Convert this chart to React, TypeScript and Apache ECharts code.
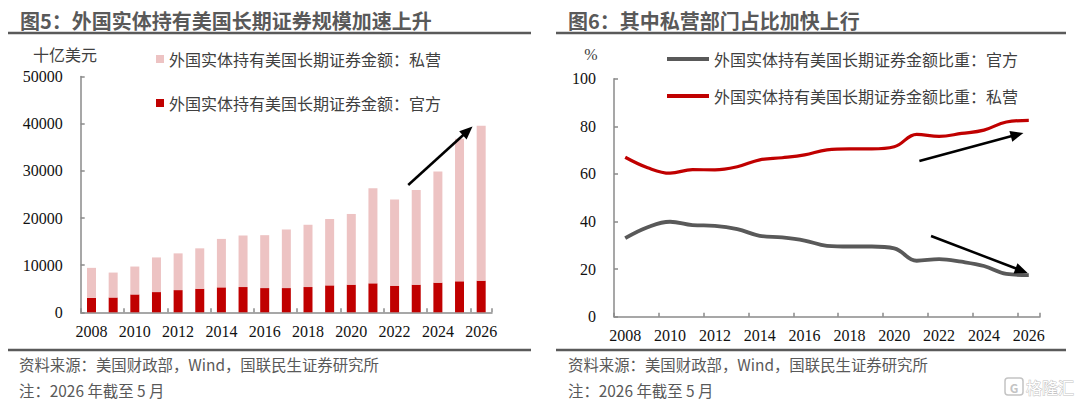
import React, { useEffect, useRef } from "react";
import * as echarts from "echarts";

const years = ["2008","2009","2010","2011","2012","2013","2014","2015","2016","2017","2018","2019","2020","2021","2022","2023","2024","2025","2026"];
// 十亿美元
const officialAmt = [3070, 3140, 3790, 4290, 4710, 5000, 5290, 5360, 5140, 5140, 5360, 5710, 5860, 6140, 5640, 5860, 6290, 6570, 6710];
const privateAmt = [6360, 5290, 5920, 7350, 7790, 8570, 10280, 10930, 11220, 12430, 13210, 14080, 15000, 20150, 18290, 20070, 23570, 30220, 32860];
// %
const officialPct = [33.0, 37.6, 39.9, 38.5, 38.2, 36.8, 34.0, 33.3, 32.0, 29.8, 29.5, 29.5, 28.7, 23.5, 24.2, 23.1, 21.3, 18.0, 17.5];
const privatePct = [67.0, 62.6, 60.3, 61.8, 61.7, 63.0, 65.9, 66.8, 68.0, 70.1, 70.5, 70.5, 71.4, 76.6, 75.8, 77.0, 78.4, 81.8, 82.5];

const leftTicks = [0, 10000, 20000, 30000, 40000, 50000];
const rightTicks = [0, 20, 40, 60, 80, 100];

const nameLeftPrivate = "外国实体持有美国长期证券金额：私营";
const nameLeftOfficial = "外国实体持有美国长期证券金额：官方";
const nameRightOfficial = "外国实体持有美国长期证券金额比重：官方";
const nameRightPrivate = "外国实体持有美国长期证券金额比重：私营";

// arrows in data space: [categoryIndex, value]
const arrows = [
  { grid: 0, from: [14.63, 27000], to: [17.6, 39400] },
  { grid: 1, from: [13.12, 65.4], to: [17.76, 77.2] },
  { grid: 1, from: [13.64, 33.9], to: [17.95, 18.4] },
];

const SERIF = "Liberation Serif";
const SANS = "Noto Sans CJK SC";
const AXIS_COLOR = "#8a8a8a";
const RULE_COLOR = "#5a5a5a";
const TEXT_GREY = "#595959";

export default function App() {
  const ref = useRef<HTMLDivElement>(null);
  useEffect(() => {
    if (!ref.current) return;
    const chart = echarts.init(ref.current, null, { renderer: "svg" });

    const xAxisCommon = (gridIndex: number) => ({
      type: "category" as const,
      gridIndex,
      data: years,
      boundaryGap: true,
      axisLine: { show: true, lineStyle: { color: AXIS_COLOR, width: 1.5 } },
      axisTick: { show: true, inside: true, interval: 1, alignWithLabel: false, length: 4, lineStyle: { color: AXIS_COLOR, width: 1.5 } },
      axisLabel: { interval: 1, fontSize: 16, color: "#111", fontFamily: SERIF, margin: 11 },
      splitLine: { show: false },
    });

    const yAxisCommon = (gridIndex: number, ticks: number[]) => ({
      type: "value" as const,
      gridIndex,
      min: ticks[0],
      max: ticks[ticks.length - 1],
      interval: ticks[1] - ticks[0],
      axisLine: { show: true, lineStyle: { color: AXIS_COLOR, width: 1.5 } },
      axisTick: { show: true, inside: true, length: 4, lineStyle: { color: AXIS_COLOR, width: 1.5 } },
      axisLabel: { fontSize: 16, color: "#111", fontFamily: SERIF, margin: 18, formatter: (v: number) => String(v) },
      splitLine: { show: false },
    });

    chart.setOption({
      animation: false,
      backgroundColor: "#fff",
      grid: [
        { left: 80.7, top: 76.6, width: 411.3, height: 235.7 },
        { left: 614, top: 78.7, width: 426, height: 238 },
      ],
      legend: [
        {
          data: [nameLeftPrivate, nameLeftOfficial],
          orient: "vertical",
          left: 151,
          top: 46,
          itemWidth: 8,
          itemHeight: 8,
          itemGap: 28,
          icon: "rect",
          textStyle: { fontSize: 16, color: "#404040", fontFamily: SANS },
        },
        {
          data: [nameRightOfficial, nameRightPrivate],
          orient: "vertical",
          left: 662,
          top: 46,
          itemWidth: 42,
          itemHeight: 4,
          itemGap: 21,
          icon: "rect",
          textStyle: { fontSize: 16, color: "#404040", fontFamily: SANS },
        },
      ],
      xAxis: [xAxisCommon(0), xAxisCommon(1)],
      yAxis: [yAxisCommon(0, leftTicks), yAxisCommon(1, rightTicks)],
      series: [
        {
          name: nameLeftOfficial,
          type: "bar",
          xAxisIndex: 0,
          yAxisIndex: 0,
          stack: "amt",
          barWidth: 9,
          data: officialAmt,
          itemStyle: { color: "#C00000" },
        },
        {
          name: nameLeftPrivate,
          type: "bar",
          xAxisIndex: 0,
          yAxisIndex: 0,
          stack: "amt",
          barWidth: 9,
          data: privateAmt,
          itemStyle: { color: "#EDC3C3" },
        },
        {
          name: nameRightOfficial,
          type: "line",
          xAxisIndex: 1,
          yAxisIndex: 1,
          data: officialPct,
          smooth: 0.4,
          showSymbol: false,
          symbol: "none",
          lineStyle: { color: "#595959", width: 3.8 },
          itemStyle: { color: "#595959" },
        },
        {
          name: nameRightPrivate,
          type: "line",
          xAxisIndex: 1,
          yAxisIndex: 1,
          data: privatePct,
          smooth: 0.4,
          showSymbol: false,
          symbol: "none",
          lineStyle: { color: "#C00000", width: 3.2 },
          itemStyle: { color: "#C00000" },
        },
      ],
    });

    const toPx = (grid: number, p: number[]) => {
      const i0 = Math.floor(p[0]);
      const i1 = Math.min(i0 + 1, years.length - 1);
      const a = chart.convertToPixel({ gridIndex: grid }, [i0, p[1]]) as number[];
      const b = chart.convertToPixel({ gridIndex: grid }, [i1, p[1]]) as number[];
      const f = p[0] - i0;
      return [a[0] + (b[0] - a[0]) * f, a[1]];
    };

    const arrowEls: any[] = [];
    arrows.forEach((ar, k) => {
      const s = toPx(ar.grid, ar.from);
      const e = toPx(ar.grid, ar.to);
      const dx = e[0] - s[0];
      const dy = e[1] - s[1];
      const len = Math.sqrt(dx * dx + dy * dy);
      const ux = dx / len;
      const uy = dy / len;
      const L = 13;
      const W = 11;
      const bx = e[0] - ux * L;
      const by = e[1] - uy * L;
      arrowEls.push({
        type: "line",
        id: "arrowLine" + k,
        shape: { x1: s[0], y1: s[1], x2: bx + ux * 2, y2: by + uy * 2 },
        style: { stroke: "#000", lineWidth: 2.5 },
        z: 100,
      });
      arrowEls.push({
        type: "polygon",
        id: "arrowHead" + k,
        shape: {
          points: [
            [e[0], e[1]],
            [bx - uy * W / 2, by + ux * W / 2],
            [bx + uy * W / 2, by - ux * W / 2],
          ],
        },
        style: { fill: "#000" },
        z: 100,
      });
    });

    const textEl = (id: string, x: number, y: number, text: string, style: any) => ({
      type: "text",
      id,
      x,
      y,
      style: { text, textVerticalAlign: "middle", verticalAlign: "middle", ...style },
      z: 50,
    });

    const graphics: any[] = [
      textEl("t1", 20, 20, "图5：外国实体持有美国长期证券规模加速上升", { fontSize: 20, fontWeight: "bold", fill: TEXT_GREY, fontFamily: SANS }),
      textEl("t2", 568, 20, "图6：其中私营部门占比加快上行", { fontSize: 20, fontWeight: "bold", fill: TEXT_GREY, fontFamily: SANS }),
      { type: "line", id: "r1", shape: { x1: 8, y1: 33, x2: 531, y2: 33 }, style: { stroke: RULE_COLOR, lineWidth: 2.5 } },
      { type: "line", id: "r2", shape: { x1: 556, y1: 33, x2: 1066, y2: 33 }, style: { stroke: RULE_COLOR, lineWidth: 2.5 } },
      { type: "line", id: "r3", shape: { x1: 8, y1: 350, x2: 531, y2: 350 }, style: { stroke: RULE_COLOR, lineWidth: 2.5 } },
      { type: "line", id: "r4", shape: { x1: 556, y1: 350, x2: 1066, y2: 350 }, style: { stroke: RULE_COLOR, lineWidth: 2.5 } },
      textEl("u1", 65, 54, "十亿美元", { fontSize: 16, fill: "#404040", fontFamily: SANS, textAlign: "center", align: "center" }),
      textEl("u2", 591, 54, "%", { fontSize: 16, fill: "#404040", fontFamily: SERIF, textAlign: "center", align: "center" }),
      textEl("s1", 19, 364, "资料来源：美国财政部，Wind，国联民生证券研究所", { fontSize: 15.4, fill: TEXT_GREY, fontFamily: SANS }),
      textEl("n1", 19, 390, "注：2026 年截至 5 月", { fontSize: 15.4, fill: TEXT_GREY, fontFamily: SANS }),
      textEl("s2", 568, 364, "资料来源：美国财政部，Wind，国联民生证券研究所", { fontSize: 15.4, fill: TEXT_GREY, fontFamily: SANS }),
      textEl("n2", 568, 390, "注：2026 年截至 5 月", { fontSize: 15.4, fill: TEXT_GREY, fontFamily: SANS }),
      { type: "rect", id: "wm1", shape: { x: 1005, y: 378, width: 18, height: 17, r: 3 }, style: { fill: "none", stroke: "#c4c4c4", lineWidth: 1.5 } },
      textEl("wm2", 1014, 387, "G", { fontSize: 12, fontWeight: "bold", fill: "#c4c4c4", fontFamily: SANS, textAlign: "center", align: "center" }),
      textEl("wm3", 1026, 387, "格隆汇", { fontSize: 16, fill: "#fff", stroke: "#c4c4c4", lineWidth: 1, fontFamily: SANS }),
      ...arrowEls,
    ];

    chart.setOption({ graphic: graphics });

    return () => chart.dispose();
  }, []);

  return (
    <div
      ref={ref}
      style={{ position: "fixed", left: 0, top: 0, width: 1080, height: 404, background: "#fff" }}
    />
  );
}
